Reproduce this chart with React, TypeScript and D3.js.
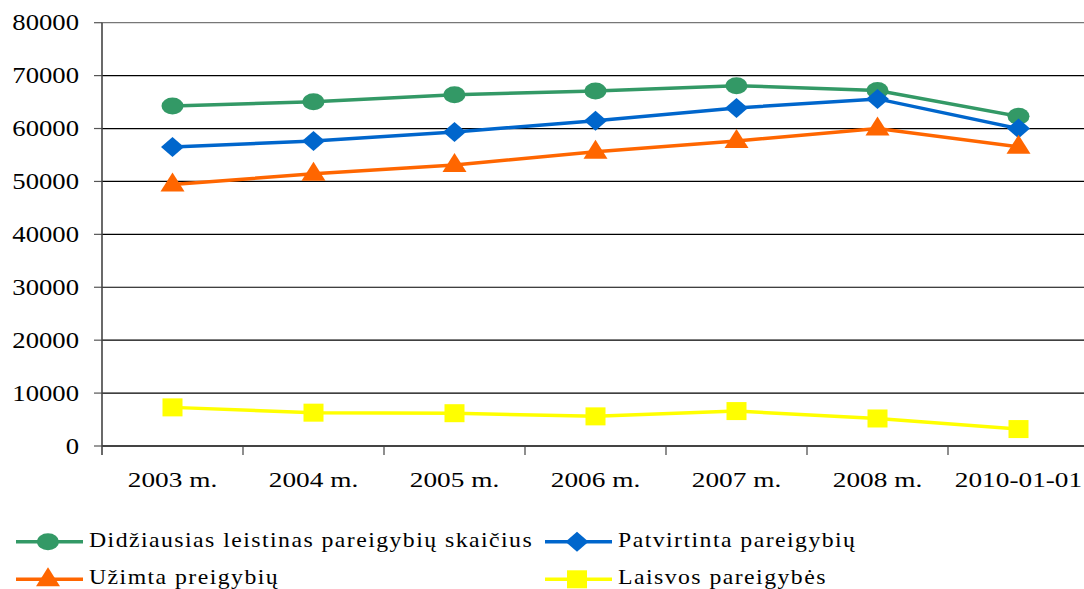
import React from "react";
import * as d3 from "d3";

const categories = ["2003 m.", "2004 m.", "2005 m.", "2006 m.", "2007 m.", "2008 m.", "2010-01-01"];
const maxAllowed = [64250, 65050, 66400, 67100, 68100, 67200, 62300];
const approved = [56500, 57650, 59350, 61450, 63900, 65600, 60000];
const occupied = [49400, 51450, 53100, 55600, 57650, 60000, 56550];
const vacant = [7300, 6300, 6200, 5600, 6600, 5200, 3200];
const yTicks = [0, 10000, 20000, 30000, 40000, 50000, 60000, 70000, 80000];
const seriesNames = [
  "Didžiausias leistinas pareigybių skaičius",
  "Patvirtinta pareigybių",
  "Užimta preigybių",
  "Laisvos pareigybės",
];

const W = 1084, H = 589;
const left = 102, right = 1089, top = 22.7, bottom = 446;
const FONT = "'Liberation Serif', 'Times New Roman', serif";

type Shape = "circle" | "diamond" | "triangle" | "square";

function Marker({ shape, x, y, color }: { shape: Shape; x: number; y: number; color: string }) {
  if (shape === "circle") return <ellipse cx={x} cy={y} rx={11} ry={8.5} fill={color} />;
  if (shape === "diamond")
    return <path d={`M${x - 11.5},${y} L${x},${y - 10} L${x + 11.5},${y} L${x},${y + 10} Z`} fill={color} />;
  if (shape === "triangle")
    return <path d={`M${x - 12},${y + 7} L${x},${y - 12} L${x + 12},${y + 7} Z`} fill={color} />;
  return <rect x={x - 10} y={y - 9} width={20} height={18} fill={color} />;
}

export default function App() {
  const x = d3.scaleBand<string>().domain(categories).range([left, right]);
  const y = d3.scaleLinear().domain([0, 80000]).range([bottom, top]);
  const cx = (c: string) => (x(c) as number) + x.bandwidth() / 2;

  const series: { name: string; values: number[]; color: string; shape: Shape }[] = [
    { name: seriesNames[0], values: maxAllowed, color: "#339966", shape: "circle" },
    { name: seriesNames[1], values: approved, color: "#0066CC", shape: "diamond" },
    { name: seriesNames[2], values: occupied, color: "#FF6600", shape: "triangle" },
    { name: seriesNames[3], values: vacant, color: "#FFFF00", shape: "square" },
  ];

  const line = d3
    .line<number>()
    .x((_, i) => cx(categories[i]))
    .y((d) => y(d));

  const legendPos = [
    { lx: 16, ly: 541.7, ty: 547.3 },
    { lx: 545, ly: 541.7, ty: 547.3 },
    { lx: 16, ly: 579.3, ty: 584.3 },
    { lx: 545, ly: 579.3, ty: 584.3 },
  ];

  return (
    <svg width={W} height={H} style={{ position: "absolute", left: 0, top: 0, background: "#fff" }}>
      {yTicks.map((t) => (
        <g key={t}>
          {t > 0 && (
            <line x1={left} x2={W} y1={y(t)} y2={y(t)} stroke={t === 80000 ? "#777" : "#000"} strokeWidth={1.2} />
          )}
          <line x1={94} x2={left} y1={y(t)} y2={y(t)} stroke="#555" strokeWidth={1.2} />
          <text
            transform={`translate(79,${y(t) + 7.5}) scale(1.16,1)`}
            textAnchor="end"
            fontFamily={FONT}
            fontSize={23}
            fill="#000"
          >
            {t}
          </text>
        </g>
      ))}
      <line x1={left} x2={left} y1={top} y2={bottom + 9} stroke="#444" strokeWidth={1.6} />
      <line x1={left} x2={W} y1={bottom} y2={bottom} stroke="#444" strokeWidth={2} />
      {categories.map((c) => (
        <g key={c}>
          <line x1={(x(c) as number) + x.bandwidth()} x2={(x(c) as number) + x.bandwidth()} y1={bottom} y2={bottom + 9} stroke="#444" strokeWidth={1.2} />
          <text
            transform={`translate(${cx(c)},487.3) scale(1.3,1)`}
            textAnchor="middle"
            fontFamily={FONT}
            fontSize={21}
            fill="#000"
          >
            {c}
          </text>
        </g>
      ))}
      {series.map((s) => (
        <g key={s.name}>
          <path d={line(s.values) as string} fill="none" stroke={s.color} strokeWidth={3.5} />
          {s.values.map((v, i) => (
            <Marker key={i} shape={s.shape} x={cx(categories[i])} y={y(v)} color={s.color} />
          ))}
        </g>
      ))}
      {series.map((s, i) => {
        const { lx, ly, ty } = legendPos[i];
        return (
          <g key={s.name}>
            <line x1={lx} x2={lx + 67} y1={ly} y2={ly} stroke={s.color} strokeWidth={3.5} />
            <Marker shape={s.shape} x={lx + 32} y={ly} color={s.color} />
            <text
              transform={`translate(${lx + 73},${ty}) scale(1.08,1)`}
              fontFamily={FONT}
              fontSize={22}
              letterSpacing={1.35}
              fill="#000"
            >
              {s.name}
            </text>
          </g>
        );
      })}
    </svg>
  );
}
